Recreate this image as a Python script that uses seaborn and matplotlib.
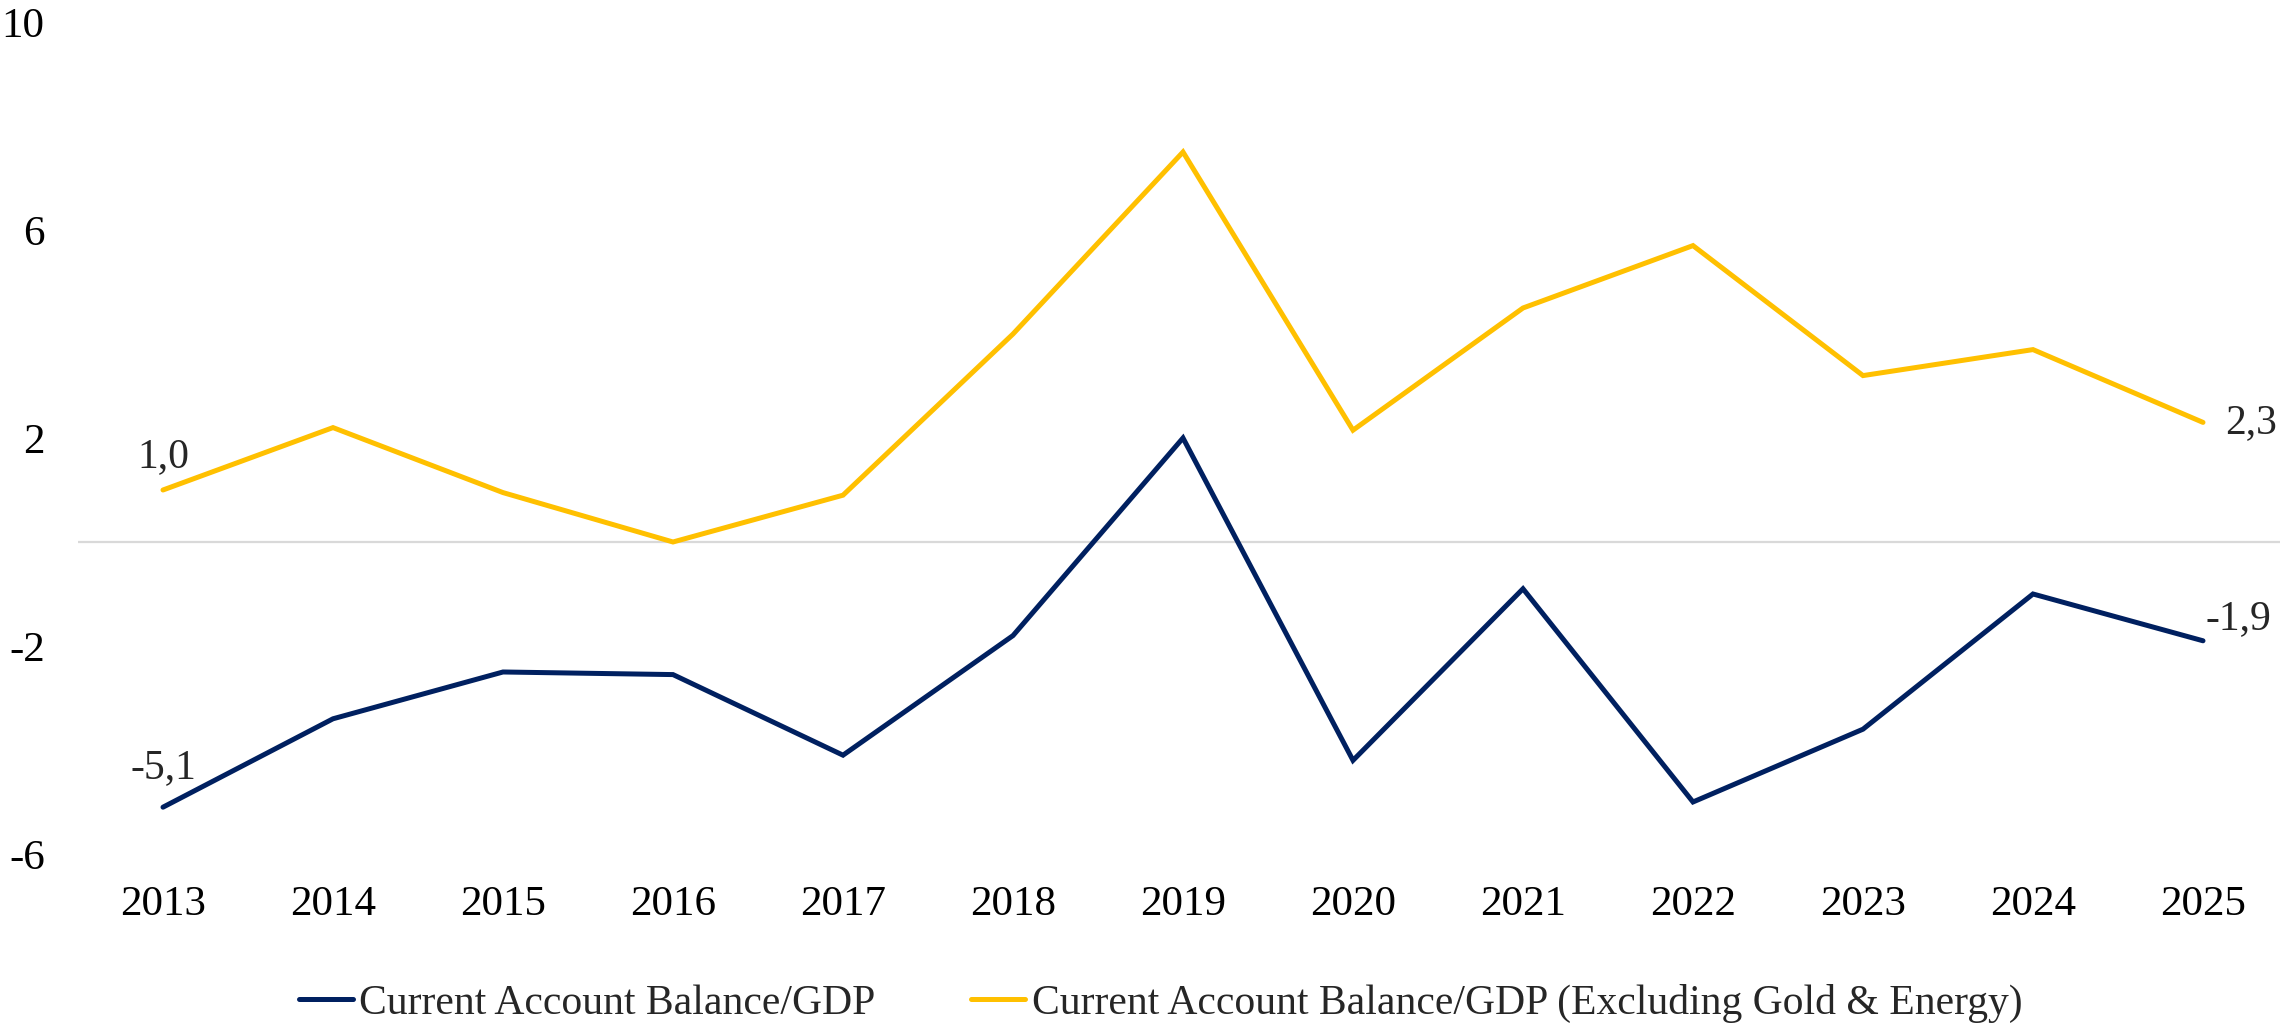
import pandas as pd
import matplotlib.pyplot as plt
import seaborn as sns
from matplotlib.lines import Line2D

# ---------------------------------------------------------------
# Data (% of GDP)
# ---------------------------------------------------------------
years = [2013, 2014, 2015, 2016, 2017, 2018, 2019, 2020, 2021, 2022, 2023, 2024, 2025]
cab_gdp = [-5.1, -3.4, -2.5, -2.55, -4.1, -1.8, 2.0, -4.2, -0.9, -5.0, -3.6, -1.0, -1.9]
cab_gdp_ex = [1.0, 2.2, 0.95, 0.0, 0.9, 4.0, 7.5, 2.15, 4.5, 5.7, 3.2, 3.7, 2.3]

NAME_1 = "Current Account Balance/GDP"
NAME_2 = "Current Account Balance/GDP (Excluding Gold & Energy)"
y_ticks = [-6, -2, 2, 6, 10]

NAVY = "#002060"
GOLD = "#FFC000"

df = pd.DataFrame({
    "year": years * 2,
    "value": cab_gdp + cab_gdp_ex,
    "series": [NAME_1] * len(years) + [NAME_2] * len(years),
})

# ---------------------------------------------------------------
# Style
# ---------------------------------------------------------------
sns.set_theme(style="white")
plt.rcParams["font.family"] = ["Liberation Serif", "DejaVu Serif"]
plt.rcParams["axes.unicode_minus"] = False

fig = plt.figure(figsize=(22.8, 10.33), dpi=100)
ax = fig.add_axes([78 / 2280, 0.1733, 2210 / 2280, 0.8054])

sns.lineplot(data=df, x="year", y="value", hue="series",
             palette={NAME_1: NAVY, NAME_2: GOLD},
             linewidth=3.6, ax=ax, legend=False, sort=False)
for ln in ax.lines:
    ln.set_solid_capstyle("round")
    ln.set_solid_joinstyle("miter")

ax.axhline(0, color="#D9D9D9", linewidth=1.6, zorder=0)

ax.set_xlim(years[0] - 0.5, years[-1] + 0.5)
ax.set_ylim(-6, 10)
ax.set_xticks(years)
ax.set_yticks(y_ticks)
ax.set_xlabel("")
ax.set_ylabel("")
ax.tick_params(axis="x", length=0, pad=23, labelsize=31, labelcolor="black")
ax.tick_params(axis="y", length=0, pad=24, labelsize=31, labelcolor="black")
sns.despine(ax=ax, left=True, bottom=True)
ax.grid(False)


def fmt(v):
    return f"{v:.1f}".replace(".", ",")


# data labels at first and last points
ax.annotate(fmt(cab_gdp_ex[0]), (years[0], cab_gdp_ex[0]), xytext=(0, 24),
            textcoords="offset points", ha="center", va="center", fontsize=30)
ax.annotate(fmt(cab_gdp[0]), (years[0], cab_gdp[0]), xytext=(0, 28),
            textcoords="offset points", ha="center", va="center", fontsize=30)
ax.annotate(fmt(cab_gdp_ex[-1]), (years[-1], cab_gdp_ex[-1]), xytext=(16, 0),
            textcoords="offset points", ha="left", va="center", fontsize=30)
ax.annotate(fmt(cab_gdp[-1]), (years[-1], cab_gdp[-1]), xytext=(2, 16),
            textcoords="offset points", ha="left", va="center", fontsize=30)

handles = [Line2D([0], [0], color=NAVY, linewidth=3.6, solid_capstyle="round"),
           Line2D([0], [0], color=GOLD, linewidth=3.6, solid_capstyle="round")]
fig.legend(handles, [NAME_1, NAME_2], loc="center", bbox_to_anchor=(0.509, 0.029),
           ncol=2, frameon=False, fontsize=30, handlelength=1.3,
           handletextpad=0.15, columnspacing=2.3)

plt.savefig("out.png", dpi=100)
plt.close()
